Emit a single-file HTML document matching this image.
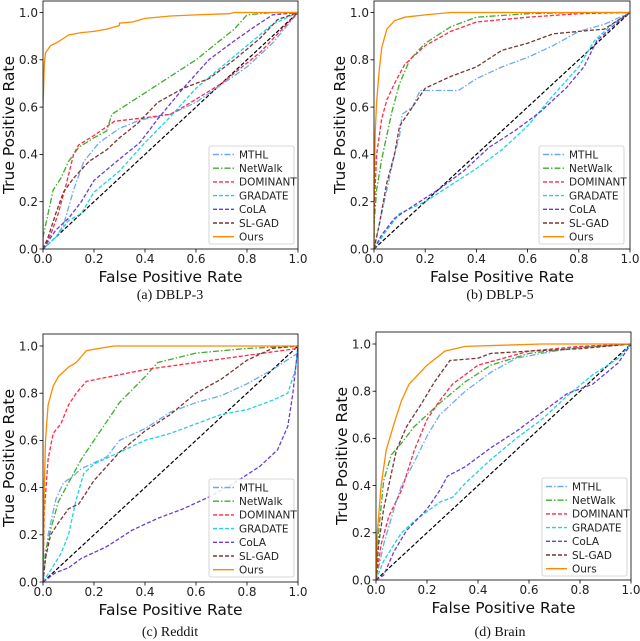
<!DOCTYPE html>
<html><head><meta charset="utf-8"><style>
body{margin:0;background:#fff;width:640px;height:641px;overflow:hidden}
svg{display:block}
</style></head><body>
<svg id="fig" width="640" height="641" xmlns="http://www.w3.org/2000/svg" font-family="'DejaVu Sans', 'Liberation Sans', sans-serif"></svg>
<script>
const seriesNames = ["MTHL","NetWalk","DOMINANT","GRADATE","CoLA","SL-GAD","Ours"];
const tickValues = [0,0.2,0.4,0.6,0.8,1.0];
const tickLabels = ["0.0","0.2","0.4","0.6","0.8","1.0"];
const panelTitles = ["(a)  DBLP-3","(b)  DBLP-5","(c)  Reddit","(d)  Brain"];

// (a) DBLP-3
const a_mthl = [[0,0],[0.05,0.05],[0.08,0.1],[0.12,0.25],[0.16,0.37],[0.22,0.45],[0.3,0.51],[0.38,0.545],[0.45,0.56],[0.5,0.57],[0.6,0.62],[0.8,0.77],[0.9,0.87],[1,1]];
const a_netwalk = [[0,0],[0,0.05],[0.02,0.15],[0.04,0.25],[0.07,0.3],[0.1,0.37],[0.14,0.43],[0.2,0.47],[0.25,0.5],[0.27,0.57],[0.4,0.66],[0.6,0.8],[0.75,0.93],[0.8,0.99],[0.9,1],[1,1]];
const a_dominant = [[0,0],[0.03,0.06],[0.06,0.15],[0.09,0.27],[0.12,0.4],[0.14,0.44],[0.2,0.48],[0.28,0.54],[0.4,0.555],[0.5,0.57],[0.55,0.6],[0.7,0.7],[0.85,0.83],[1,1]];
const a_gradate = [[0,0],[0.05,0.05],[0.1,0.12],[0.15,0.15],[0.2,0.24],[0.3,0.33],[0.4,0.45],[0.5,0.56],[0.6,0.68],[0.7,0.77],[0.8,0.86],[0.9,0.95],[1,1]];
const a_cola = [[0,0],[0.05,0.08],[0.1,0.13],[0.15,0.2],[0.2,0.29],[0.3,0.38],[0.38,0.45],[0.45,0.55],[0.55,0.68],[0.65,0.8],[0.75,0.88],[0.83,0.94],[0.9,0.99],[1,1]];
const a_slgad = [[0,0],[0.02,0.05],[0.05,0.15],[0.08,0.24],[0.12,0.3],[0.18,0.37],[0.25,0.42],[0.3,0.47],[0.37,0.53],[0.45,0.62],[0.55,0.68],[0.65,0.72],[0.75,0.8],[0.85,0.89],[0.92,0.97],[1,1]];
const a_ours = [[0,0],[0,0.6],[0.005,0.78],[0.01,0.83],[0.03,0.86],[0.05,0.87],[0.08,0.89],[0.1,0.905],[0.15,0.915],[0.2,0.92],[0.25,0.93],[0.3,0.945],[0.3,0.955],[0.35,0.96],[0.4,0.975],[0.5,0.985],[0.6,0.99],[0.73,0.995],[0.75,1],[1,1]];
// (b) DBLP-5
const b_mthl = [[0,0],[0.02,0.1],[0.05,0.25],[0.08,0.4],[0.1,0.48],[0.11,0.57],[0.15,0.6],[0.18,0.67],[0.33,0.67],[0.4,0.72],[0.5,0.77],[0.6,0.81],[0.7,0.86],[0.8,0.92],[0.9,0.95],[1,1]];
const b_netwalk = [[0,0],[0,0.1],[0.01,0.25],[0.03,0.38],[0.05,0.48],[0.07,0.58],[0.1,0.7],[0.14,0.8],[0.2,0.87],[0.3,0.94],[0.4,0.98],[0.6,0.995],[0.8,1],[1,1]];
const b_dominant = [[0,0],[0,0.15],[0.01,0.4],[0.03,0.55],[0.05,0.63],[0.08,0.7],[0.12,0.78],[0.2,0.86],[0.3,0.92],[0.4,0.96],[0.6,0.98],[0.8,0.995],[1,1]];
const b_gradate = [[0,0],[0.05,0.08],[0.1,0.15],[0.2,0.2],[0.3,0.27],[0.4,0.34],[0.5,0.42],[0.6,0.52],[0.7,0.65],[0.8,0.77],[0.86,0.88],[0.93,0.95],[1,1]];
const b_cola = [[0,0],[0.03,0.06],[0.08,0.13],[0.15,0.18],[0.25,0.25],[0.35,0.33],[0.45,0.43],[0.55,0.5],[0.65,0.58],[0.75,0.68],[0.82,0.77],[0.87,0.88],[0.93,0.94],[1,1]];
const b_slgad = [[0,0],[0.02,0.1],[0.05,0.28],[0.08,0.4],[0.1,0.52],[0.15,0.6],[0.2,0.68],[0.3,0.73],[0.4,0.77],[0.5,0.84],[0.6,0.87],[0.7,0.91],[0.8,0.92],[0.9,0.93],[1,1]];
const b_ours = [[0,0],[0,0.2],[0.005,0.5],[0.01,0.62],[0.02,0.75],[0.03,0.85],[0.05,0.93],[0.08,0.965],[0.12,0.98],[0.2,0.99],[0.3,1],[1,1]];
// (c) Reddit
const c_mthl = [[0,0],[0.02,0.2],[0.05,0.35],[0.08,0.42],[0.12,0.45],[0.15,0.48],[0.25,0.53],[0.3,0.6],[0.4,0.65],[0.5,0.72],[0.6,0.76],[0.7,0.79],[0.8,0.84],[0.9,0.9],[1,0.97],[1,1]];
const c_netwalk = [[0,0],[0.01,0.13],[0.03,0.22],[0.06,0.34],[0.1,0.42],[0.15,0.52],[0.2,0.6],[0.25,0.68],[0.3,0.76],[0.4,0.87],[0.45,0.93],[0.6,0.97],[0.8,0.99],[1,1]];
const c_dominant = [[0,0],[0.005,0.3],[0.02,0.52],[0.04,0.63],[0.07,0.67],[0.1,0.75],[0.13,0.8],[0.17,0.85],[0.4,0.9],[0.6,0.93],[0.8,0.96],[1,0.99]];
const c_gradate = [[0,0],[0.03,0.05],[0.07,0.12],[0.1,0.2],[0.13,0.35],[0.16,0.46],[0.2,0.5],[0.3,0.55],[0.4,0.6],[0.5,0.63],[0.6,0.67],[0.7,0.71],[0.8,0.73],[0.9,0.77],[0.96,0.8],[0.99,0.9],[1,1]];
const c_cola = [[0,0],[0.05,0.04],[0.1,0.06],[0.15,0.1],[0.25,0.15],[0.35,0.22],[0.45,0.27],[0.55,0.31],[0.65,0.36],[0.75,0.42],[0.85,0.49],[0.92,0.56],[0.96,0.66],[0.98,0.8],[1,1]];
const c_slgad = [[0,0],[0.01,0.1],[0.03,0.2],[0.06,0.25],[0.1,0.31],[0.14,0.33],[0.2,0.43],[0.3,0.55],[0.4,0.64],[0.5,0.71],[0.6,0.8],[0.7,0.86],[0.8,0.94],[0.9,0.99],[1,1]];
const c_ours = [[0,0],[0.005,0.4],[0.01,0.6],[0.02,0.75],[0.04,0.83],[0.06,0.87],[0.1,0.91],[0.13,0.93],[0.17,0.98],[0.22,0.99],[0.28,1],[1,1]];
// (d) Brain
const d_mthl = [[0,0],[0.03,0.15],[0.07,0.3],[0.1,0.4],[0.15,0.5],[0.2,0.61],[0.25,0.7],[0.35,0.8],[0.45,0.88],[0.55,0.94],[0.7,0.97],[0.8,0.985],[1,1]];
const d_netwalk = [[0,0],[0.01,0.2],[0.03,0.42],[0.06,0.53],[0.1,0.58],[0.15,0.65],[0.25,0.75],[0.35,0.84],[0.45,0.91],[0.6,0.96],[0.8,0.985],[1,1]];
const d_dominant = [[0,0],[0.02,0.15],[0.05,0.27],[0.1,0.38],[0.15,0.55],[0.2,0.68],[0.25,0.76],[0.3,0.83],[0.35,0.87],[0.4,0.91],[0.5,0.94],[0.6,0.97],[0.8,0.99],[1,1]];
const d_gradate = [[0,0],[0.03,0.08],[0.07,0.15],[0.1,0.2],[0.15,0.25],[0.2,0.29],[0.25,0.33],[0.3,0.35],[0.35,0.41],[0.45,0.51],[0.55,0.6],[0.65,0.68],[0.75,0.78],[0.85,0.87],[0.95,0.94],[1,1]];
const d_cola = [[0,0],[0.03,0.02],[0.07,0.12],[0.12,0.21],[0.2,0.3],[0.25,0.38],[0.28,0.44],[0.35,0.48],[0.45,0.56],[0.55,0.63],[0.65,0.71],[0.75,0.79],[0.85,0.83],[0.95,0.92],[1,1]];
const d_slgad = [[0,0],[0.01,0.15],[0.03,0.3],[0.06,0.45],[0.08,0.55],[0.12,0.65],[0.18,0.75],[0.23,0.84],[0.29,0.93],[0.4,0.94],[0.45,0.96],[0.6,0.97],[0.8,0.98],[1,1]];
const d_ours = [[0,0],[0.005,0.2],[0.02,0.4],[0.04,0.55],[0.07,0.66],[0.1,0.76],[0.13,0.83],[0.2,0.91],[0.27,0.97],[0.35,0.99],[0.5,0.995],[0.65,1],[1,1]];

const panelData = [
  [a_mthl,a_netwalk,a_dominant,a_gradate,a_cola,a_slgad,a_ours],
  [b_mthl,b_netwalk,b_dominant,b_gradate,b_cola,b_slgad,b_ours],
  [c_mthl,c_netwalk,c_dominant,c_gradate,c_cola,c_slgad,c_ours],
  [d_mthl,d_netwalk,d_dominant,d_gradate,d_cola,d_slgad,d_ours]
];

const styles = [
  {c:"#6aaaf5",d:"6,2,1.5,2"},{c:"#3cae2c",d:"6,2,1.5,2"},{c:"#ff2a45",d:"4,2"},
  {c:"#1fd3e0",d:"4,2"},{c:"#6a3cd6",d:"4,2"},{c:"#7a3535",d:"4,2"},{c:"#ff8a00",d:""}
];
const layout = [
  {x0:43,x1:298,y0:249,y1:12.5,top:1,leg:[209,146],cap:[170,299]},
  {x0:374,x1:630,y0:249,y1:12.5,top:1,leg:[539,146],cap:[500,299]},
  {x0:43,x1:298,y0:582,y1:346,top:334,leg:[209,479],cap:[170,636]},
  {x0:376,x1:631,y0:580,y1:344,top:332,leg:[542,478],cap:[500,636]}
];
const NS="http://www.w3.org/2000/svg";
const svg=document.getElementById('fig');
function mk(tag,attrs,parent,text){const e=document.createElementNS(NS,tag);for(const k in attrs)e.setAttribute(k,attrs[k]);if(text!==undefined)e.textContent=text;(parent||svg).appendChild(e);return e;}

layout.forEach((L,p)=>{
  const g=mk('g',{});
  
  
  const sx=v=>L.x0+v*(L.x1-L.x0);
  const sy=v=>L.y0+v*(L.y1-L.y0);
  const clipId='clip'+p;
  const cp=mk('clipPath',{id:clipId},g);
  mk('rect',{x:L.x0,y:L.top,width:L.x1-L.x0,height:L.y0-L.top},cp);
  const diag=mk('line',{x1:sx(0),y1:sy(0),x2:sx(1),y2:sy(1),stroke:"#000","stroke-width":1.2,"stroke-dasharray":"4,2"},g);
  
  
  panelData[p].forEach((ser,i)=>{
    const d=ser.map((pt,j)=>(j?'L':'M')+sx(pt[0]).toFixed(1)+','+sy(pt[1]).toFixed(1)).join('');
    const path=mk('path',{d:d,fill:'none',stroke:styles[i].c,'stroke-width':1.3,'stroke-dasharray':styles[i].d,'clip-path':'url(#'+clipId+')'},g);
    
    
  });
  const frame=mk('rect',{x:L.x0,y:L.top,width:L.x1-L.x0,height:L.y0-L.top,fill:'none',stroke:'#000','stroke-width':0.8},g);
  
  
  tickValues.forEach((v,k)=>{
    mk('line',{x1:sx(v),y1:L.y0,x2:sx(v),y2:L.y0+3.5,stroke:'#000','stroke-width':0.8},g);
    const tx=mk('text',{x:sx(v),y:L.y0+14,'font-size':12,'text-anchor':'middle',fill:'#222'},g,tickLabels[k]);
    
    
    mk('line',{x1:L.x0-3.5,y1:sy(v),x2:L.x0,y2:sy(v),stroke:'#000','stroke-width':0.8},g);
    const ty=mk('text',{x:L.x0-5,y:sy(v)+4.3,'font-size':12,'text-anchor':'end',fill:'#222'},g,tickLabels[k]);
    
    
  });
  const xt=mk('text',{x:(L.x0+L.x1)/2,y:L.y0+33,'font-size':15.5,'text-anchor':'middle',fill:'#111'},g,'False Positive Rate');
  
  
  const ycx=L.x0-29, ycy=(L.y0+L.top)/2;
  const yt=mk('text',{x:ycx,y:ycy,'font-size':15.5,'text-anchor':'middle',fill:'#111',transform:'rotate(-90 '+ycx+' '+ycy+')'},g,'True Positive Rate');
  
  
  const lg=mk('g',{},g);
  
  
  const [lx,ly]=L.leg;
  mk('rect',{x:lx,y:ly,width:85,height:98,rx:2,fill:'#fff','fill-opacity':0.85,stroke:'#ccc','stroke-width':0.8},lg);
  seriesNames.forEach((n,i)=>{
    const yy=ly+8.5+i*13.7;
    const e=mk('g',{},lg);
    
    
    mk('line',{x1:lx+4,y1:yy,x2:lx+25,y2:yy,stroke:styles[i].c,'stroke-width':1.4,'stroke-dasharray':styles[i].d},e);
    mk('text',{x:lx+30,y:yy+3.8,'font-size':10.5,fill:'#222'},e,n);
  });
  const cap=mk('text',{x:L.cap[0],y:L.cap[1],'font-size':14,'text-anchor':'middle',fill:'#111','font-family':"'Liberation Serif', serif"},g,panelTitles[p]);
  
  
});
</script>
</body></html>
